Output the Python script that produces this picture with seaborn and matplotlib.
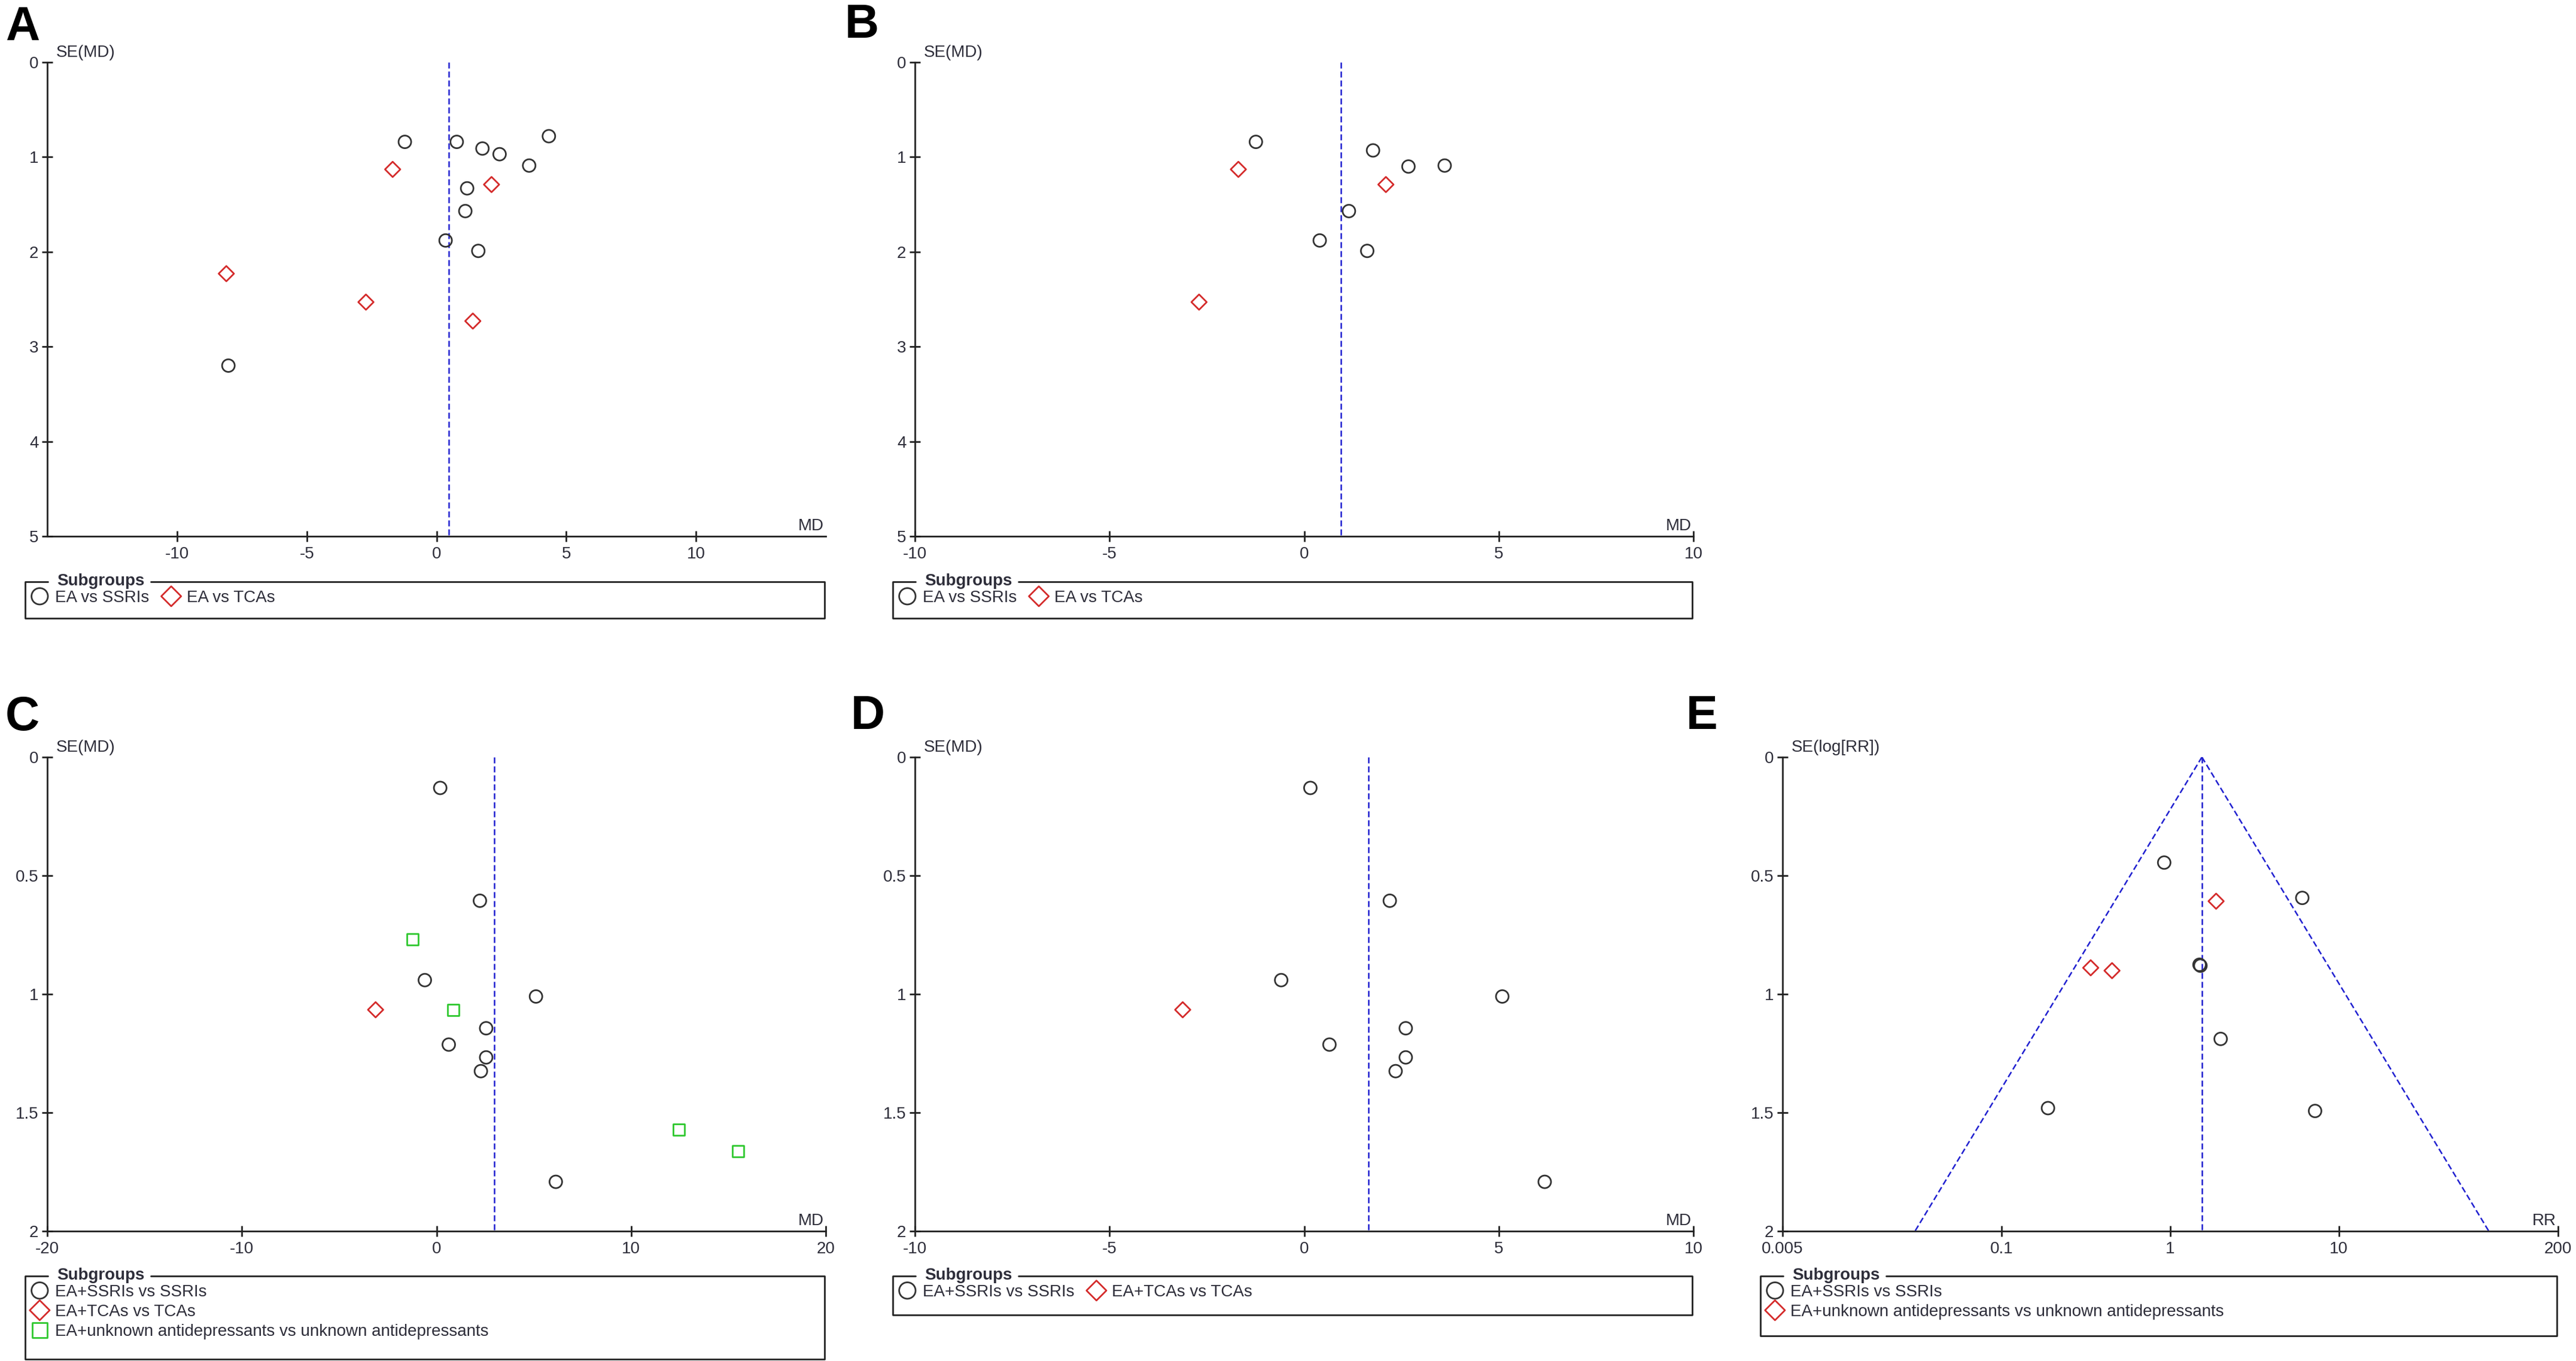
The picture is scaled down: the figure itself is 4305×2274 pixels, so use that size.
import numpy as np
import matplotlib
matplotlib.use('Agg')
import matplotlib.pyplot as plt
import seaborn as sns
from matplotlib.lines import Line2D
from matplotlib.ticker import NullLocator

# ---- data ----
# A: EA vs antidepressants (MD)
a_ssri_md = [-1.22, 0.78, 1.77, 2.43, 4.33, 3.57, 1.18, 1.11, 0.35, 1.61, -8.02]
a_ssri_se = [0.84, 0.84, 0.91, 0.97, 0.78, 1.09, 1.33, 1.57, 1.88, 1.99, 3.20]
a_tca_md = [-1.69, 2.12, -8.10, -2.72, 1.40]
a_tca_se = [1.13, 1.29, 2.23, 2.53, 2.73]
a_pooled = 0.47

# B
b_ssri_md = [-1.24, 1.77, 2.68, 3.61, 1.15, 0.40, 1.62]
b_ssri_se = [0.84, 0.93, 1.10, 1.09, 1.57, 1.88, 1.99]
b_tca_md = [-1.69, 2.10, -2.70]
b_tca_se = [1.13, 1.29, 2.53]
b_pooled = 0.95

# C: EA + antidepressants vs antidepressants (MD)
c_ssri_md = [0.19, 2.23, -0.60, 5.11, 2.55, 0.63, 2.55, 2.28, 6.13]
c_ssri_se = [0.13, 0.606, 0.941, 1.010, 1.144, 1.213, 1.267, 1.325, 1.792]
c_tca_md = [-3.13]
c_tca_se = [1.066]
c_unk_md = [-1.24, 0.85, 12.45, 15.49]
c_unk_se = [0.769, 1.066, 1.571, 1.662]
c_pooled = 2.97

# D
d_ssri_md = [0.16, 2.20, -0.59, 5.09, 2.61, 0.65, 2.61, 2.35, 6.18]
d_ssri_se = [0.13, 0.606, 0.941, 1.010, 1.144, 1.213, 1.267, 1.325, 1.792]
d_tca_md = [-3.12]
d_tca_se = [1.066]
d_pooled = 1.65

# E: risk ratio
e_ssri_rr = [0.92, 6.07, 1.49, 1.51, 1.99, 0.188, 7.23]
e_ssri_se = [0.445, 0.594, 0.876, 0.880, 1.189, 1.481, 1.493]
e_unk_rr = [1.87, 0.337, 0.451]
e_unk_se = [0.608, 0.889, 0.901]
e_pooled = 1.54

md_ticks_15 = [-10, -5, 0, 5, 10]
md_ticks_10 = [-10, -5, 0, 5, 10]
md_ticks_20 = [-20, -10, 0, 10, 20]
rr_ticks = [0.005, 0.1, 1, 10, 200]
rr_ticklabels = ['0.005', '0.1', '1', '10', '200']
se_ticks_5 = [0, 1, 2, 3, 4, 5]
se_ticks_2 = [0, 0.5, 1, 1.5, 2]
se_ticklabels_2 = ['0', '0.5', '1', '1.5', '2']

# ---- style ----
sns.set_style('ticks')
plt.rcParams['font.family'] = ['Liberation Sans', 'DejaVu Sans']
plt.rcParams['axes.unicode_minus'] = False

W, H = 4305, 2274
fig = plt.figure(figsize=(W / 100, H / 100), dpi=100)

TXT = '#2e2e3a'
AX = '#222222'
BLUE = '#2020d0'
STYLES = {
    'circle': dict(marker='o', edgecolors='#333333', s=230),
    'diamond': dict(marker='D', edgecolors='#d42a2a', s=170),
    'square': dict(marker='s', edgecolors='#2ec82e', s=190),
}


def px_axes(x0, y0, x1, y1):
    return fig.add_axes([x0 / W, 1 - y1 / H, (x1 - x0) / W, (y1 - y0) / H])


def funnel(ax, groups, pooled, xlim, xticks, ylim, yticks, ylabel, xlabel,
           xticklabels=None, yticklabels=None, log=False):
    handles = []
    for xs, ys, kind, label in groups:
        st = STYLES[kind]
        sns.scatterplot(x=xs, y=ys, ax=ax, marker=st['marker'], s=st['s'],
                        facecolors='none', edgecolors=st['edgecolors'],
                        linewidth=2, legend=False, zorder=3)
        coll = ax.collections[-1]
        coll.set_label(label)
        handles.append(coll)
    if log:
        ax.set_xscale('log')
    ax.plot([pooled, pooled], [0, ylim[1]], ls=(0, (4, 2)), lw=1.8, color=BLUE, zorder=2)
    if log:
        # 95% pseudo-confidence limits around the pooled estimate
        se = np.array([0, ylim[1]])
        ax.plot(pooled * np.exp(-1.96 * se), se, ls=(0, (4, 2)), lw=1.8, color=BLUE, zorder=2)
        ax.plot(pooled * np.exp(1.96 * se), se, ls=(0, (4, 2)), lw=1.8, color=BLUE, zorder=2)
    ax.set_xlim(*xlim)
    ax.set_ylim(ylim[1], ylim[0])
    ax.set_xticks(xticks)
    if xticklabels is not None:
        ax.set_xticklabels(xticklabels)
    ax.set_yticks(yticks)
    if yticklabels is not None:
        ax.set_yticklabels(yticklabels)
    ax.xaxis.set_minor_locator(NullLocator())
    ax.yaxis.set_minor_locator(NullLocator())
    ax.set_xlabel('')
    ax.set_ylabel('')
    for side in ['top', 'right']:
        ax.spines[side].set_visible(False)
    for side in ['left', 'bottom']:
        ax.spines[side].set_linewidth(2)
        ax.spines[side].set_color(AX)
    ax.tick_params(direction='inout', length=13, width=2, color=AX,
                   labelcolor=TXT, labelsize=20)
    ax.tick_params(axis='y', pad=4)
    ax.tick_params(axis='x', pad=6)
    ax.annotate(ylabel, xy=(0, 1), xycoords='axes fraction', xytext=(15, 9),
                textcoords='offset pixels', ha='left', va='baseline',
                fontsize=20, color=TXT)
    ax.annotate(xlabel, xy=(1, 0), xycoords='axes fraction', xytext=(-3, 10),
                textcoords='offset pixels', ha='right', va='baseline',
                fontsize=20, color=TXT)
    ax.patch.set_alpha(0)
    return handles


def legend_box(ax, handles, x0, y0, x1, y1, ncol):
    xs = [x0 + 38, x0, x0, x1, x1, x0 + 210]
    ys = [y0, y0, y1, y1, y0, y0]
    fig.add_artist(Line2D([v / W for v in xs], [1 - v / H for v in ys],
                          transform=fig.transFigure, color=AX, lw=2))
    fig.text((x0 + 53) / W, 1 - (y0 + 6) / H, 'Subgroups', fontsize=20,
             fontweight='bold', color=TXT, ha='left', va='baseline')
    ax.legend(handles=handles, labels=[h.get_label() for h in handles],
              loc='upper left', bbox_to_anchor=((x0 + 7) / W, 1 - (y0 + 14) / H),
              bbox_transform=fig.transFigure, ncol=ncol, frameon=False,
              borderpad=0, borderaxespad=0, handlelength=1.25, handletextpad=0.3,
              columnspacing=0.7, labelspacing=0.25, fontsize=20, labelcolor=TXT,
              markerscale=1.3, scatterpoints=1, scatteryoffsets=[0.5])


# ---- panels ----
axA = px_axes(79, 104, 1380, 896)
hA = funnel(axA, [(a_ssri_md, a_ssri_se, 'circle', 'EA vs SSRIs'),
                  (a_tca_md, a_tca_se, 'diamond', 'EA vs TCAs')],
            a_pooled, (-15, 15), md_ticks_15, (0, 5), se_ticks_5, 'SE(MD)', 'MD')
legend_box(axA, hA, 42, 972, 1378, 1033, 2)

axB = px_axes(1529, 104, 2830, 896)
hB = funnel(axB, [(b_ssri_md, b_ssri_se, 'circle', 'EA vs SSRIs'),
                  (b_tca_md, b_tca_se, 'diamond', 'EA vs TCAs')],
            b_pooled, (-10, 10), md_ticks_10, (0, 5), se_ticks_5, 'SE(MD)', 'MD')
legend_box(axB, hB, 1492, 972, 2828, 1033, 2)

axC = px_axes(79, 1265, 1380, 2057)
hC = funnel(axC, [(c_ssri_md, c_ssri_se, 'circle', 'EA+SSRIs vs SSRIs'),
                  (c_tca_md, c_tca_se, 'diamond', 'EA+TCAs vs TCAs'),
                  (c_unk_md, c_unk_se, 'square', 'EA+unknown antidepressants vs unknown antidepressants')],
            c_pooled, (-20, 20), md_ticks_20, (0, 2), se_ticks_2, 'SE(MD)', 'MD',
            yticklabels=se_ticklabels_2)
legend_box(axC, hC, 42, 2132, 1378, 2271, 1)

axD = px_axes(1529, 1265, 2830, 2057)
hD = funnel(axD, [(d_ssri_md, d_ssri_se, 'circle', 'EA+SSRIs vs SSRIs'),
                  (d_tca_md, d_tca_se, 'diamond', 'EA+TCAs vs TCAs')],
            d_pooled, (-10, 10), md_ticks_10, (0, 2), se_ticks_2, 'SE(MD)', 'MD',
            yticklabels=se_ticklabels_2)
legend_box(axD, hD, 1492, 2132, 2828, 2197, 2)

axE = px_axes(2979, 1265, 4275, 2057)
hE = funnel(axE, [(e_ssri_rr, e_ssri_se, 'circle', 'EA+SSRIs vs SSRIs'),
                  (e_unk_rr, e_unk_se, 'diamond', 'EA+unknown antidepressants vs unknown antidepressants')],
            e_pooled, (0.005, 200), rr_ticks, (0, 2), se_ticks_2, 'SE(log[RR])', 'RR',
            xticklabels=rr_ticklabels, yticklabels=se_ticklabels_2, log=True)
legend_box(axE, hE, 2942, 2132, 4273, 2232, 1)

# panel letters
for letter, x, y in [('A', 9, 67), ('B', 1412, 63), ('C', 9, 1220),
                     ('D', 1422, 1218), ('E', 2818, 1218)]:
    fig.text(x / W, 1 - y / H, letter, fontsize=57, fontweight='bold',
             color='black', ha='left', va='baseline')

fig.savefig('out.png', dpi=100, facecolor='white')
